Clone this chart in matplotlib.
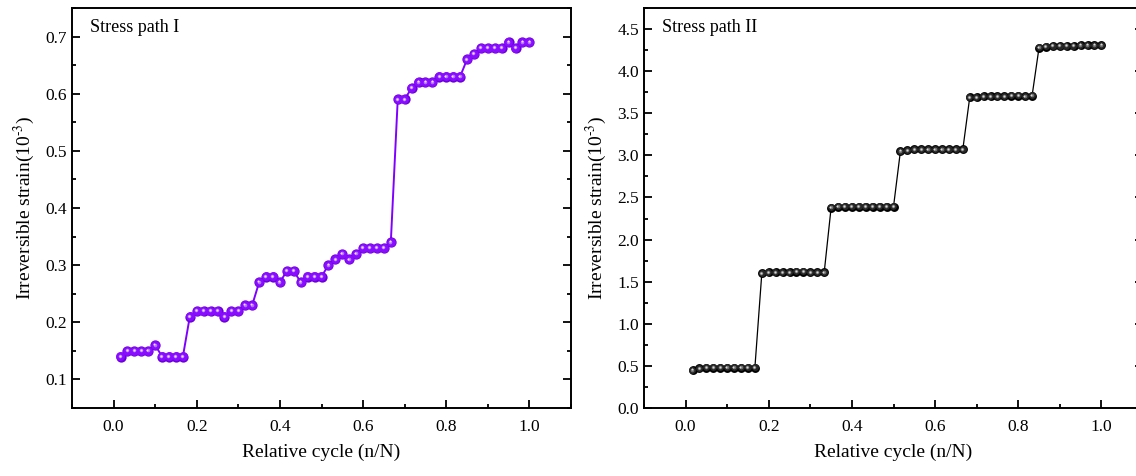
import matplotlib
matplotlib.use("Agg")
import matplotlib.pyplot as plt
import matplotlib.transforms as mtransforms
from matplotlib.ticker import MultipleLocator
import numpy as np

# ---------------- data ----------------
n_points = 60
rel_cycle = [i / n_points for i in range(1, n_points + 1)]

strain_path1 = [
    0.14, 0.15, 0.15, 0.15, 0.15, 0.16, 0.14, 0.14, 0.14, 0.14,
    0.21, 0.22, 0.22, 0.22, 0.22, 0.21, 0.22, 0.22, 0.23, 0.23,
    0.27, 0.28, 0.28, 0.27, 0.29, 0.29, 0.27, 0.28, 0.28, 0.28,
    0.30, 0.31, 0.32, 0.31, 0.32, 0.33, 0.33, 0.33, 0.33, 0.34,
    0.59, 0.59, 0.61, 0.62, 0.62, 0.62, 0.63, 0.63, 0.63, 0.63,
    0.66, 0.67, 0.68, 0.68, 0.68, 0.68, 0.69, 0.68, 0.69, 0.69,
]

strain_path2 = [
    0.45, 0.47, 0.48, 0.48, 0.48, 0.48, 0.48, 0.48, 0.48, 0.48,
    1.60, 1.61, 1.61, 1.61, 1.61, 1.62, 1.62, 1.61, 1.61, 1.61,
    2.38, 2.39, 2.39, 2.39, 2.39, 2.39, 2.39, 2.39, 2.39, 2.39,
    3.05, 3.06, 3.07, 3.07, 3.07, 3.07, 3.07, 3.07, 3.07, 3.07,
    3.69, 3.69, 3.70, 3.70, 3.70, 3.70, 3.71, 3.71, 3.70, 3.71,
    4.28, 4.29, 4.30, 4.30, 4.30, 4.30, 4.31, 4.31, 4.31, 4.31,
]

panel_titles = ["Stress path I", "Stress path II"]
x_label = "Relative cycle (n/N)"
y_label = r"Irreversible strain(10$^{\text{-3}}$)"

# ---------------- style ----------------
plt.rcParams['font.family'] = ['Liberation Serif', 'DejaVu Serif']
plt.rcParams['mathtext.fontset'] = 'stix'

fig = plt.figure(figsize=(11.36, 4.76), dpi=100)
ax1 = fig.add_axes([72 / 1136, 68 / 476, 499 / 1136, 400 / 476])
ax2 = fig.add_axes([644 / 1136, 68 / 476, 499 / 1136, 400 / 476])


def ball_series(ax, x, y, layers, line_color, lw):
    ax.plot(x, y, '-', color=line_color, lw=lw, zorder=2)
    for k, (ms, col, dx, dy) in enumerate(layers):
        tr = mtransforms.offset_copy(ax.transData, fig=fig, x=dx, y=dy, units='dots')
        ax.plot(x, y, 'o', ms=ms, mfc=col, mec='none', ls='none',
                transform=tr, zorder=3 + k)


purple_layers = [
    (7.4, '#6C00DC', 0.0, 0.0),
    (6.4, '#8A0CFF', -0.2, 0.2),
    (2.6, '#B277FF', -0.6, 0.6),
    (1.5, '#EBDCFF', -0.8, 0.8),
]
black_layers = [
    (6.4, '#000000', 0.0, 0.0),
    (5.0, '#262626', -0.3, 0.3),
    (2.6, '#707070', -0.5, 0.5),
    (1.4, '#D8D8D8', -0.7, 0.7),
]

ball_series(ax1, rel_cycle, strain_path1, purple_layers, '#8000FF', 1.4)
ball_series(ax2, rel_cycle, strain_path2, black_layers, '#000000', 0.9)

for ax, title in zip((ax1, ax2), panel_titles):
    ax.set_xlim(-0.1, 1.1)
    ax.xaxis.set_major_locator(MultipleLocator(0.2))
    ax.xaxis.set_minor_locator(MultipleLocator(0.1))
    ax.tick_params(axis='both', which='both', direction='in',
                   top=False, right=True, labelsize=12.5, width=1.3)
    ax.tick_params(which='major', length=6)
    ax.tick_params(which='minor', length=3)
    ax.tick_params(axis='x', pad=8)
    for s in ax.spines.values():
        s.set_linewidth(1.4)
    ax.set_xlabel(x_label, fontsize=14, labelpad=6)
    ax.set_ylabel(y_label, fontsize=14, labelpad=6)
    ax.text(0.036, 0.95, title, transform=ax.transAxes, fontsize=13,
            ha='left', va='center')

ax1.set_ylim(0.05, 0.75)
ax1.yaxis.set_major_locator(MultipleLocator(0.1))
ax1.yaxis.set_minor_locator(MultipleLocator(0.05))
ax1.set_xticks([0.0, 0.2, 0.4, 0.6, 0.8, 1.0])
ax1.set_xticklabels(["0.0", "0.2", "0.4", "0.6", "0.8", "1.0"])

ax2.set_ylim(0.0, 4.75)
ax2.yaxis.set_major_locator(MultipleLocator(0.5))
ax2.yaxis.set_minor_locator(MultipleLocator(0.25))
ax2.set_xticks([0.0, 0.2, 0.4, 0.6, 0.8, 1.0])
ax2.set_xticklabels(["0.0", "0.2", "0.4", "0.6", "0.8", "1.0"])

fig.savefig("out.png", dpi=100)
